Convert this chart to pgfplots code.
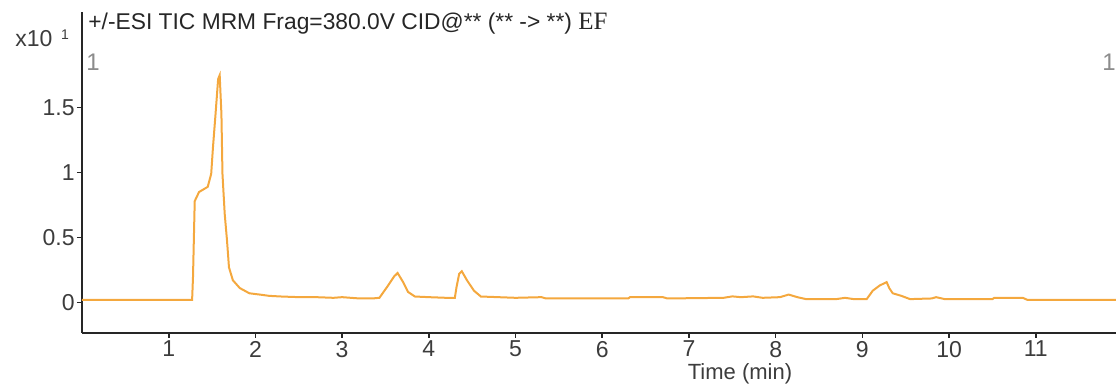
\documentclass[border=0pt]{standalone}
\usepackage{pgfplots}
\pgfplotsset{compat=1.18}
\usepackage{fontspec}
\setmainfont{Liberation Sans}
\newfontfamily\seriffont{Liberation Serif}
\definecolor{tracecol}{RGB}{244,168,62}
\definecolor{labgray}{RGB}{60,60,60}
\begin{document}
\begin{tikzpicture}
\begin{axis}[
  at={(41pt,25.5pt)}, anchor=south west, scale only axis,
  width=517pt, height=160.5pt,
  xmin=0, xmax=11.925, ymin=-0.236, ymax=2.237,
  axis x line*=bottom, axis y line*=left,
  axis line style={line width=1pt, -, black!85},
  xtick={1,2,3,4,5,6,7,8,9,10,11},
  ytick={0,0.5,1,1.5},
  yticklabels={0,0.5,1,1.5},
  tick align=outside, major tick length=2.5pt,
  tick style={line width=0.8pt, black!85},
  ticklabel style={font=\fontsize{11.5}{13}\selectfont, text=labgray, inner sep=1pt},
  xticklabel style={yshift=-0.3pt},
  /pgf/number format/assume math mode=true,
  clip=false,
]
\addplot[tracecol, line width=1pt] coordinates {
(0,0.02) (1.27,0.02) (1.28,0.19) (1.30,0.78) (1.35,0.85) (1.40,0.87) (1.45,0.89)
(1.49,0.99) (1.51,1.19) (1.54,1.45) (1.57,1.72) (1.588,1.75) (1.608,1.45) (1.62,0.99)
(1.646,0.68) (1.672,0.48) (1.695,0.27) (1.74,0.17) (1.82,0.11) (1.93,0.07) (2.05,0.06)
(2.16,0.05) (2.3,0.045) (2.51,0.04) (2.7,0.04) (2.9,0.035) (3.0,0.04) (3.1,0.035)
(3.2,0.03) (3.35,0.03) (3.43,0.035) (3.52,0.12) (3.60,0.2) (3.64,0.226) (3.70,0.16)
(3.76,0.08) (3.84,0.045) (4.0,0.04) (4.2,0.035) (4.30,0.035) (4.32,0.12) (4.35,0.22)
(4.38,0.24) (4.44,0.17) (4.52,0.09) (4.60,0.045) (4.8,0.04) (5.0,0.035) (5.3,0.04)
(5.35,0.03) (6.3,0.03) (6.32,0.04) (6.7,0.04) (6.75,0.03) (7.4,0.035) (7.5,0.046)
(7.6,0.04) (7.74,0.046) (7.85,0.035) (8.05,0.04) (8.15,0.06) (8.25,0.04) (8.35,0.025)
(8.7,0.025) (8.8,0.035) (8.9,0.025) (9.05,0.025) (9.12,0.09) (9.2,0.13) (9.28,0.156)
(9.31,0.11) (9.35,0.07) (9.45,0.05) (9.55,0.025) (9.8,0.03) (9.85,0.04) (9.95,0.025)
(10.5,0.025) (10.52,0.035) (10.85,0.035) (10.9,0.02) (11.925,0.02)
};
\end{axis}
% texts around the axis
\node[anchor=center, font=\fontsize{11}{13}\selectfont, text=labgray, inner sep=0pt] at (370pt,5.2pt) {Time (min)};
\node[anchor=base west, font=\fontsize{11.4}{13}\selectfont, text=black!85, inner sep=0pt] at (44pt,177pt) {+/-ESI TIC MRM Frag=380.0V CID@** (** -> **) {\seriffont\fontsize{12.5}{14}\selectfont EF}};
\node[anchor=base west, font=\fontsize{11.5}{13}\selectfont, text=labgray, inner sep=0pt] at (7.5pt,168.5pt) {x10};
\node[anchor=center, font=\fontsize{7}{8}\selectfont, text=labgray, inner sep=0pt] at (32.5pt,174.5pt) {1};
\node[anchor=center, font=\fontsize{12}{14}\selectfont, text=black!45, inner sep=0pt] at (46.5pt,160.8pt) {1};
\node[anchor=center, font=\fontsize{12}{14}\selectfont, text=black!45, inner sep=0pt] at (554.5pt,161pt) {1};
\pgfresetboundingbox
\path (0pt,0pt) rectangle (558pt,192pt);
\end{tikzpicture}
\end{document}
